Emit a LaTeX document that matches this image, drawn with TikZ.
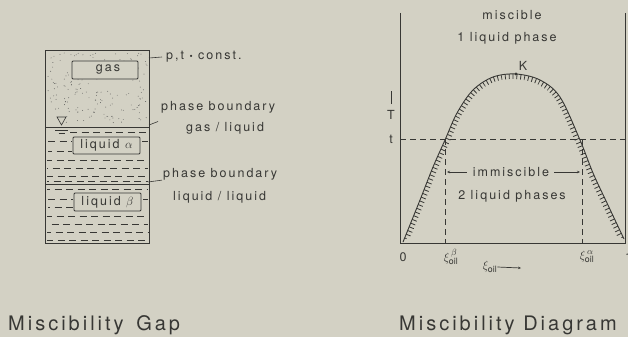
\documentclass[tikz,border=0pt]{standalone}
\usepackage{fontspec}
\setmainfont{TeX Gyre Heros}[LetterSpace=16]
\newfontfamily\titlefont{TeX Gyre Heros}[LetterSpace=15]
\usetikzlibrary{arrows.meta}
\definecolor{bg}{RGB}{211,209,196}
\definecolor{ink}{RGB}{55,55,52}
\begin{document}
\begin{tikzpicture}[x=1pt,y=-1pt,
  every node/.style={text=ink,inner sep=0pt},
  lbl/.style={font=\fontsize{12.5}{14}\selectfont},
  ttl/.style={font=\titlefont\fontsize{20}{24}\selectfont,anchor=base west},
  line/.style={draw=ink,line width=0.9pt},
  thin/.style={draw=ink,line width=0.6pt},
  liq/.style={draw=ink,line width=0.8pt,dash pattern=on 7pt off 4.5pt},
  box/.style={draw=ink,line width=0.9pt,fill=bg,rounded corners=1pt},
  dsh/.style={draw=ink,line width=0.8pt,dash pattern=on 6pt off 4pt},
  arr/.style={draw=ink,line width=0.7pt,-{Stealth[length=3pt,width=2.5pt]}},
  hatchline/.style={draw=ink,line width=10pt,dash pattern=on 0.8pt off 3.2pt}]
\fill[bg] (0,0) rectangle (628,337);
\useasboundingbox (0,0) rectangle (628,337);

% ---------------- left: miscibility gap ----------------
\pgfmathsetseed{4242}
\foreach \i in {1,...,170}{
  \pgfmathsetmacro\px{48+rnd*99}
  \pgfmathsetmacro\py{53+rnd*70}
  \fill[ink!80] (\px,\py) circle (0.45);
}
% liquid alpha rows
\draw[liq] (70,132) -- (148,132);
\draw[liq] (48,141) -- (72,141);
\draw[liq] (142,141) -- (148,141);
\draw[liq,dash phase=3pt] (48,151) -- (72,151);
\draw[liq,dash phase=2pt] (47,160) -- (148,160);
\draw[liq,dash phase=6pt] (47,168) -- (148,168);
\draw[liq,dash phase=1pt] (47,176) -- (148,176);
\draw[liq,dash phase=5pt] (47,181) -- (148,181);
% liquid beta rows
\draw[liq,dash phase=4pt] (47,189) -- (148,189);
\draw[liq] (48,199) -- (73,199);
\draw[liq] (143,199) -- (148,199);
\draw[liq,dash phase=5pt] (48,207) -- (73,207);
\draw[liq,dash phase=2pt] (47,216) -- (148,216);
\draw[liq,dash phase=7pt] (47,224) -- (148,224);
\draw[liq,dash phase=3pt] (47,232) -- (148,232);
\draw[liq,dash phase=1pt] (47,240) -- (148,240);

% container
\draw[line] (45,50) rectangle (149,243);
\draw[line] (45,127) -- (149,127);
\draw[line] (45,184) -- (149,184);
% water level symbol
\draw[thin] (57,117) -- (66,117) -- (61.5,125) -- cycle;
\draw[line] (55,130) -- (68,130);
\draw[thin] (58.5,133) -- (64.5,133);

% boxes
\node[box,minimum width=66pt,minimum height=18pt] (gasbox) at (105,70) {};
\node[lbl] (gas) at (108,69) {gas};
\node[box,minimum width=67pt,minimum height=17pt] (abox) at (106.5,145.5) {};
\node[lbl] (liqa) at (106.5,145) {liquid $\alpha$};
\node[box,minimum width=67pt,minimum height=18pt] (bbox) at (107.5,202) {};
\node[lbl] (liqb) at (107.5,202) {liquid $\beta$};

% labels right
\node[lbl,anchor=west] (pt) at (166,57) {p,t {\small\textbullet} const.};
\node[lbl,anchor=west] (pb1) at (161,107) {phase boundary};
\node[lbl,anchor=west] (gasliq) at (186,128) {gas / liquid};
\node[lbl,anchor=west] (pb2) at (163,174) {phase boundary};
\node[lbl,anchor=west] (liqliq) at (173,197) {liquid / liquid};
\coordinate (c1) at (149,58);
\coordinate (c2) at (149,125);
\coordinate (c3) at (148,182);
\coordinate (d2) at (158,121.5);
\draw[thin] (c1) -- ([xshift=-4pt]pt.west);
\draw[thin] (c2) -- (d2);
\draw[thin] (c3) -- ([xshift=-1pt]pb2.south west);

\node[ttl] (t1) at (8,330) {Miscibility\hspace{4pt} Gap};

% ---------------- right: miscibility diagram ----------------
\coordinate (o) at (400,243);
\coordinate (e) at (625,243);
\draw[line] (400,13) -- (o) -- (e) -- (625,13);
\draw[dsh] (400,139) -- (625,139);
\draw[dsh] (445,139) -- (445,243);
\draw[dsh] (582,139) -- (582,243);

\def\curvepts{(403,242) (420,200) (433,167) (445,140) (457,113) (473,90) (493,77) (516,74) (540,80) (560,97) (580,140) (593,173) (607,203) (624,239)}
\begin{scope}
\clip plot[smooth,tension=0.55] coordinates {\curvepts} -- (618,236) -- (409,236) -- cycle;
\draw[hatchline] plot[smooth,tension=0.55] coordinates {\curvepts};
\end{scope}
\draw[line] plot[smooth,tension=0.55] coordinates {\curvepts};
\fill[ink] (516,74) circle (1.6);
\node[lbl] (K) at (523,66) {K};

\node[lbl] (misc) at (512,15) {miscible};
\node[lbl] (one) at (507,38) {1 liquid phase};
\node[lbl] (imm) at (511,172) {immiscible};
\node[lbl] (two) at (512,196) {2 liquid phases};
\coordinate (la) at (447,172);
\coordinate (ra) at (580,172);
\draw[arr] ([xshift=-6pt]imm.west) -- (la);
\draw[arr] ([xshift=5pt]imm.east) -- (ra);

\node[lbl] (T) at (391,115) {T};
\coordinate (Ta) at (391,91);
\coordinate (Tb) at (391,104);
\draw[thin] (Tb) -- (Ta);
\node[lbl] (tt) at (391,139) {t};
\node[lbl] (zero) at (403,257) {0};
\node[lbl,anchor=west] (one1) at (625,257) {1};
\node[lbl] (xb) at (451,257) {$\xi^{\,\beta}_{\mathrm{oil}}$};
\node[lbl] (xa) at (587,257) {$\xi^{\,\alpha}_{\mathrm{oil}}$};
\node[lbl] (xx) at (490,267) {$\xi_{\mathrm{oil}}$};
\coordinate (xe) at (521,268);
\draw[arr] (xx.east) -- (xe);

\node[ttl] (t2) at (399,330) {Miscibility Diagram};
\end{tikzpicture}
\end{document}
